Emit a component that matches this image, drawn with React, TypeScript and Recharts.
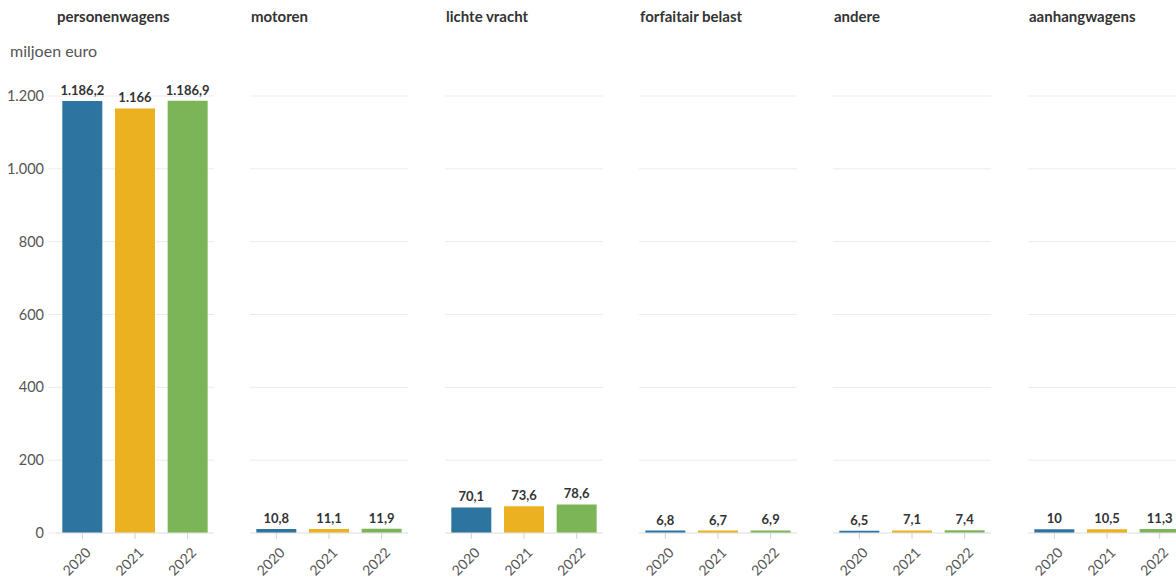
import React from 'react';
import { BarChart, Bar, XAxis, YAxis, CartesianGrid, Cell, LabelList } from 'recharts';

// categories (one panel each) and yearly values, in miljoen euro
const categories = ['personenwagens', 'motoren', 'lichte vracht', 'forfaitair belast', 'andere', 'aanhangwagens'];
const years = ['2020', '2021', '2022'];
const values2020 = [1186.2, 10.8, 70.1, 6.8, 6.5, 10];
const values2021 = [1166, 11.1, 73.6, 6.7, 7.1, 10.5];
const values2022 = [1186.9, 11.9, 78.6, 6.9, 7.4, 11.3];
const yTicks = [0, 200, 400, 600, 800, 1000, 1200];

const COLORS = ['#2e74a0', '#ebb120', '#7bb558'];
const FONT = 'Lato, "Noto Sans", sans-serif';

const PANEL_LEFT = [56, 250, 445, 639, 833, 1028];
const PLOT_W = 158;
const Y_AXIS_W = 56;

// dutch number format: 1.186,2
const fmt = (v: number) => {
  const [int, dec] = String(v).split('.');
  const withDots = int.replace(/\B(?=(\d{3})+(?!\d))/g, '.');
  return dec ? `${withDots},${dec}` : withDots;
};

const YearTick = (props: any) => {
  const { x, y, payload } = props;
  return (
    <g transform={`translate(${x + 6},${y + 9})`}>
      <text x={0} y={0} dy="0.35em" textAnchor="end" transform="rotate(-45)" fill="#555" fontSize={14} fontFamily={FONT}>
        {payload.value}
      </text>
    </g>
  );
};

function Panel({ index }: { index: number }) {
  const series = [values2020, values2021, values2022];
  const data = years.map((year, i) => ({ year, value: series[i][index] }));
  const first = index === 0;
  const left = first ? 0 : PANEL_LEFT[index];
  const width = first ? Y_AXIS_W + PLOT_W : PLOT_W;

  return (
    <div style={{ position: 'absolute', left, top: 60 }}>
      <BarChart width={width} height={518} data={data} margin={{ top: 36, right: 0, left: 0, bottom: 0 }} barCategoryGap="12%">
        <CartesianGrid vertical={false} stroke="#ebebeb" />
        <XAxis
          dataKey="year"
          height={45}
          interval={0}
          axisLine={{ stroke: '#e6e6e6' }}
          tickLine={{ stroke: '#d0d0d0' }}
          tickSize={6}
          tick={<YearTick />}
        />
        <YAxis
          hide={!first}
          width={Y_AXIS_W}
          domain={[0, 1200]}
          ticks={yTicks}
          axisLine={false}
          tickLine={{ stroke: '#ebebeb' }}
          tickSize={8}
          tickMargin={4}
          tickFormatter={fmt}
          tick={{ fill: '#555', fontSize: 14.5, fontFamily: FONT }}
        />
        <Bar dataKey="value" isAnimationActive={false}>
          {data.map((entry, i) => <Cell key={`cell-${i}`} fill={COLORS[i]} />)}
          <LabelList
            dataKey="value"
            position="top"
            offset={6}
            formatter={(v: any) => fmt(v)}
            style={{ fill: '#333', fontSize: 13, fontWeight: 700, fontFamily: FONT }}
          />
        </Bar>
      </BarChart>
    </div>
  );
}

export default function App() {
  return (
    <div style={{ position: 'absolute', left: 0, top: 0, width: 1176, height: 578, overflow: 'hidden', background: '#fff', fontFamily: FONT }}>
      {categories.map((name, i) => (
        <div key={name} style={{ position: 'absolute', left: PANEL_LEFT[i] + 1, top: 7, fontSize: 15, fontWeight: 700, color: '#333' }}>
          {name}
        </div>
      ))}
      <div style={{ position: 'absolute', left: 10, top: 41, fontSize: 16, color: '#555' }}>miljoen euro</div>
      {categories.map((name, i) => <Panel key={name} index={i} />)}
    </div>
  );
}
